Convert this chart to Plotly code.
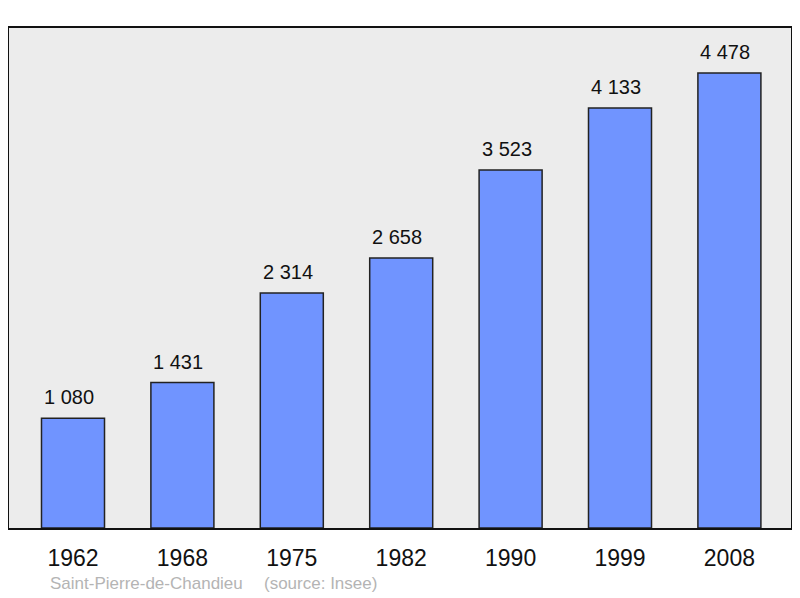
import plotly.graph_objects as go

years = ["1962", "1968", "1975", "1982", "1990", "1999", "2008"]
population = [1080, 1431, 2314, 2658, 3523, 4133, 4478]
labels = ["1 080", "1 431", "2 314", "2 658", "3 523", "4 133", "4 478"]
commune = "Saint-Pierre-de-Chandieu"
source = "(source: Insee)"

FONT = "Liberation Sans, Arial, sans-serif"

fig = go.Figure()
fig.add_trace(go.Bar(
    x=list(range(len(years))), y=population,
    width=0.576,
    marker=dict(color="#7094ff", line=dict(color="#222222", width=1.5)),
    hoverinfo="skip",
))

for i, (v, t) in enumerate(zip(population, labels)):
    fig.add_annotation(x=i, y=v, text=t, showarrow=False, yanchor="bottom",
                       yshift=8, xshift=-4,
                       font=dict(family=FONT, size=20, color="#111111"))

fig.add_annotation(xref="paper", yref="paper", x=0.05, y=-0.11, text=commune,
                   showarrow=False, xanchor="left", yanchor="middle",
                   font=dict(family=FONT, size=17, color="#b4b4b4"))
fig.add_annotation(xref="paper", yref="paper", x=0.3235, y=-0.11, text=source,
                   showarrow=False, xanchor="left", yanchor="middle",
                   font=dict(family=FONT, size=17, color="#b4b4b4"))

fig.update_layout(
    width=792, height=590,
    margin=dict(l=1, r=9, t=20, b=70),
    paper_bgcolor="white", plot_bgcolor="#ececec",
    showlegend=False,
    font=dict(family=FONT),
    xaxis=dict(range=[-0.585, 6.563], tickvals=list(range(len(years))), ticktext=years,
               tickfont=dict(size=23, color="#111111"), showgrid=False, zeroline=False,
               showline=True, mirror=True, linecolor="#111111", linewidth=2,
               ticks="outside", ticklen=8, tickcolor="rgba(0,0,0,0)"),
    yaxis=dict(range=[0, 4921], showticklabels=False, showgrid=False, zeroline=False,
               showline=True, mirror=True, linecolor="#111111", linewidth=2, ticks=""),
)

fig.write_html("out.html")
